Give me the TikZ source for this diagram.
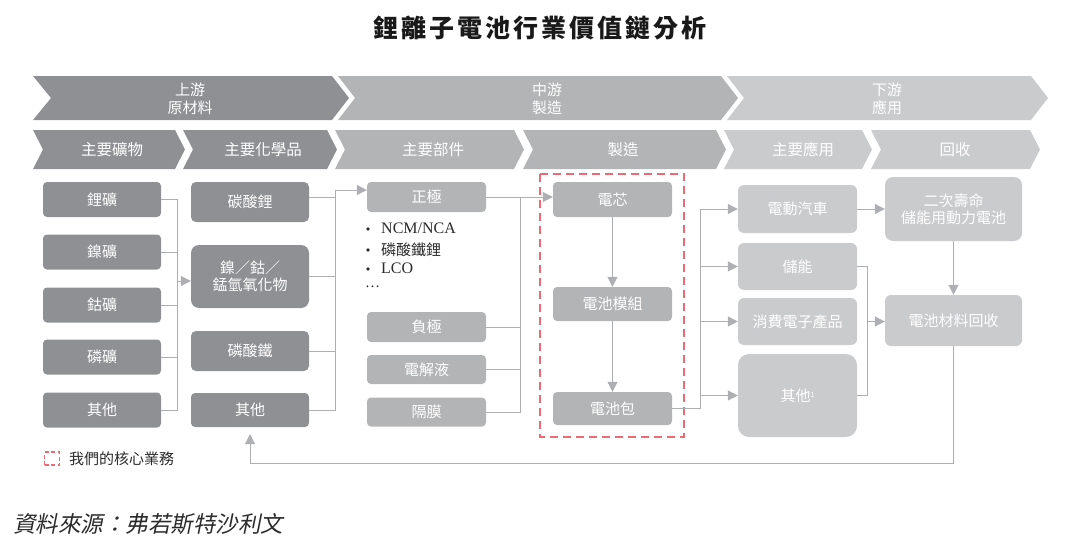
\documentclass[tikz,border=0pt]{standalone}
\usepackage{fontspec}
\setmainfont{Liberation Serif}
\newfontfamily\cjk{Noto Sans CJK TC}
\newfontfamily\cjktitle{Noto Sans CJK TC}[LetterSpace=12]
\newfontfamily\cjkit{Noto Sans CJK TC}[FakeSlant=0.2]
\usetikzlibrary{arrows.meta,calc}
\definecolor{cA}{HTML}{8F9093}
\definecolor{cB}{HTML}{B3B4B6}
\definecolor{cC}{HTML}{CACBCD}
\definecolor{ln}{HTML}{AEAFB2}
\definecolor{rd}{HTML}{EE6A72}
\definecolor{tx}{HTML}{2B2B2B}
\begin{document}
\begin{tikzpicture}[x=1pt,y=-1pt,
  bx/.style={fill=#1, rounded corners=4pt, text=white, font=\cjk\fontsize{15}{17.5}\selectfont, align=center, inner sep=0pt},
  conn/.style={draw=ln, line width=1pt},
  arr/.style={conn, -{Triangle[length=10pt,width=10pt]}},
  chtext/.style={text=white, font=\cjk\fontsize{15}{18}\selectfont, align=center, inner sep=0pt},
  plain/.style={text=tx, inner sep=0pt, anchor=west}]
\useasboundingbox (0,0) rectangle (1080,546);

% title
\node[font=\cjktitle\bfseries\fontsize{25}{28}\selectfont, text=black!90] (title) at (540,28) {鋰離子電池行業價值鏈分析};

% row 1 chevrons
\fill[cA] (33,76) -- (332,76) -- (349,98) -- (332,120) -- (33,120) -- (51,98) -- cycle;
\fill[cB] (338,76) -- (721,76) -- (738,98) -- (721,120) -- (338,120) -- (355,98) -- cycle;
\fill[cC] (727,76) -- (1031,76) -- (1048,98) -- (1031,120) -- (727,120) -- (744,98) -- cycle;
\node[chtext] (h1) at (190,99) {上游\\原材料};
\node[chtext] (h2) at (547,99) {中游\\製造};
\node[chtext] (h3) at (887,99) {下游\\應用};

% row 2 chevrons
\fill[cA] (33,130) -- (175,130) -- (185,149.5) -- (175,169) -- (33,169) -- (43,149.5) -- cycle;
\fill[cA] (183,130) -- (327,130) -- (337,149.5) -- (327,169) -- (183,169) -- (193,149.5) -- cycle;
\fill[cB] (335,130) -- (514,130) -- (524,149.5) -- (514,169) -- (335,169) -- (345,149.5) -- cycle;
\fill[cB] (523,130) -- (716,130) -- (726,149.5) -- (716,169) -- (523,169) -- (533,149.5) -- cycle;
\fill[cC] (724,130) -- (862,130) -- (872,149.5) -- (862,169) -- (724,169) -- (734,149.5) -- cycle;
\fill[cC] (871,130) -- (1030,130) -- (1040,149.5) -- (1030,169) -- (871,169) -- (881,149.5) -- cycle;
\node[chtext, font=\cjk\fontsize{15.5}{18}\selectfont] (s1) at (112,149.5) {主要礦物};
\node[chtext, font=\cjk\fontsize{15.5}{18}\selectfont] (s2) at (263,149.5) {主要化學品};
\node[chtext, font=\cjk\fontsize{15.5}{18}\selectfont] (s3) at (433,149.5) {主要部件};
\node[chtext, font=\cjk\fontsize{15.5}{18}\selectfont] (s4) at (623,149.5) {製造};
\node[chtext, font=\cjk\fontsize{15.5}{18}\selectfont] (s5) at (803,149.5) {主要應用};
\node[chtext, font=\cjk\fontsize{15.5}{18}\selectfont] (s6) at (955,149.5) {回收};

% column 1: minerals
\node[bx=cA, minimum width=118pt, minimum height=35pt] (m1) at (102,199.5) {鋰礦};
\node[bx=cA, minimum width=118pt, minimum height=35pt] (m2) at (102,252) {鎳礦};
\node[bx=cA, minimum width=118pt, minimum height=35pt] (m3) at (102,305) {鈷礦};
\node[bx=cA, minimum width=118pt, minimum height=35pt] (m4) at (102,357) {磷礦};
\node[bx=cA, minimum width=118pt, minimum height=35pt] (m5) at (102,410) {其他};

% column 2: chemicals
\node[bx=cA, minimum width=118pt, minimum height=40pt, rounded corners=5pt] (c1) at (250,202) {碳酸鋰};
\node[bx=cA, minimum width=118pt, minimum height=63pt, rounded corners=8pt] (c2) at (250,276.5) {鎳／鈷／\\錳氫氧化物};
\node[bx=cA, minimum width=118pt, minimum height=40pt, rounded corners=5pt] (c3) at (250,351) {磷酸鐵};
\node[bx=cA, minimum width=118pt, minimum height=34pt] (c4) at (250,410) {其他};

% column 3: components
\node[bx=cB, minimum width=119pt, minimum height=30pt] (p1) at (426.5,197) {正極};
\node[bx=cB, minimum width=119pt, minimum height=30pt] (p2) at (426.5,327) {負極};
\node[bx=cB, minimum width=119pt, minimum height=29pt] (p3) at (426.5,369.5) {電解液};
\node[bx=cB, minimum width=119pt, minimum height=29pt] (p4) at (426.5,412) {隔膜};
\fill[tx] (368,229) circle (1.8pt);
\fill[tx] (368,250) circle (1.8pt);
\fill[tx] (368,269) circle (1.8pt);
\node[plain, font=\fontsize{16}{18}\selectfont] (t1) at (381,228) {NCM/NCA};
\node[plain, font=\cjk\fontsize{15}{17}\selectfont] (t2) at (381,250) {磷酸鐵鋰};
\node[plain, font=\fontsize{16}{18}\selectfont] (t3) at (381,268) {LCO};
\node[plain, font=\fontsize{15}{17}\selectfont] (t4) at (365,287) {…};

% manufacturing
\node[bx=cB, minimum width=119pt, minimum height=35pt] (e1) at (612.5,199.5) {電芯};
\node[bx=cB, minimum width=119pt, minimum height=34pt] (e2) at (612.5,304) {電池模組};
\node[bx=cB, minimum width=119pt, minimum height=33pt] (e3) at (612.5,408.5) {電池包};
\draw[rd, line width=1.5pt, dash pattern=on 8pt off 5pt] (540,174) rectangle (684,437);

% applications
\node[bx=cC, minimum width=119pt, minimum height=48pt, rounded corners=6pt] (a1) at (797.5,209) {電動汽車};
\node[bx=cC, minimum width=119pt, minimum height=47pt, rounded corners=6pt] (a2) at (797.5,266.5) {儲能};
\node[bx=cC, minimum width=119pt, minimum height=47pt, rounded corners=6pt] (a3) at (797.5,321.5) {消費電子產品};
\node[bx=cC, minimum width=119pt, minimum height=83pt, rounded corners=11pt] (a4) at (797.5,395.5) {其他\raisebox{4pt}{\fontsize{7}{7}\selectfont 1}};

% recycling
\node[bx=cC, minimum width=137pt, minimum height=64pt, rounded corners=8pt] (r1) at (953.5,209) {二次壽命\\儲能用動力電池};
\node[bx=cC, minimum width=137pt, minimum height=51pt, rounded corners=6pt] (r2) at (953.5,320.5) {電池材料回收};

% connectors: minerals -> chemicals
\coordinate (b1) at (177,281);
\draw[conn] (m1.east) -- (m1.east -| b1) |- (m5.east);
\foreach \n in {m2,m3,m4} \draw[conn] (\n.east) -- (\n.east -| b1);
\draw[arr] (b1) -- (b1 -| c2.west);

% chemicals -> components
\coordinate (b2) at (335,190);
\coordinate (c1o) at ($(c1.east)+(0,-5)$);
\draw[conn] (c1o) -- (c1o -| b2);
\foreach \n in {c2,c3} \draw[conn] (\n.east) -- (\n.east -| b2);
\draw[arr] (c4.east) -- (c4.east -| b2) -- (b2) -- (b2 -| p1.west);

% components -> manufacturing
\coordinate (b3) at (520,0);
\draw[arr] (p1.east) -- (p1.east -| e1.west);
\draw[conn] (p1.east -| b3) |- (p4.east);
\foreach \n in {p2,p3} \draw[conn] (\n.east) -- (\n.east -| b3);
\draw[arr] (e1.south) -- (e2.north);
\draw[arr] (e2.south) -- (e3.north);

% manufacturing -> applications
\coordinate (b4) at (700,0);
\draw[arr] (e3.east) -| (b4 |- a1.west) -- (a1.west);
\foreach \n in {a2,a3,a4} \draw[arr] (b4 |- \n.west) -- (\n.west);

% applications -> recycling
\coordinate (b5) at (867,0);
\draw[arr] (a1.east) -- (r1.west);
\draw[conn] (a2.east) -| (b5 |- a4.east) -- (a4.east);
\draw[arr] (b5 |- a3.east) -- (a3.east -| r2.west);
\draw[arr] (r1.south) -- (r2.north);

% feedback loop
\coordinate (fb) at (954,463);
\draw[arr] (r2.south) -- (r2.south |- fb) -| ($(c4.south)+(0,7)$);

% legend
\node[draw=rd, line width=1.3pt, dash pattern=on 4pt off 2.5pt, minimum width=15pt, minimum height=13pt, inner sep=0pt] (lg) at (52,458.5) {};
\node[plain, font=\cjk\fontsize{15}{17}\selectfont] (lgt) at (69,458.5) {我們的核心業務};

% source
\node[plain, font=\cjkit\fontsize{22.5}{25}\selectfont] (src) at (13,524) {資料來源：弗若斯特沙利文};
\end{tikzpicture}
\end{document}
